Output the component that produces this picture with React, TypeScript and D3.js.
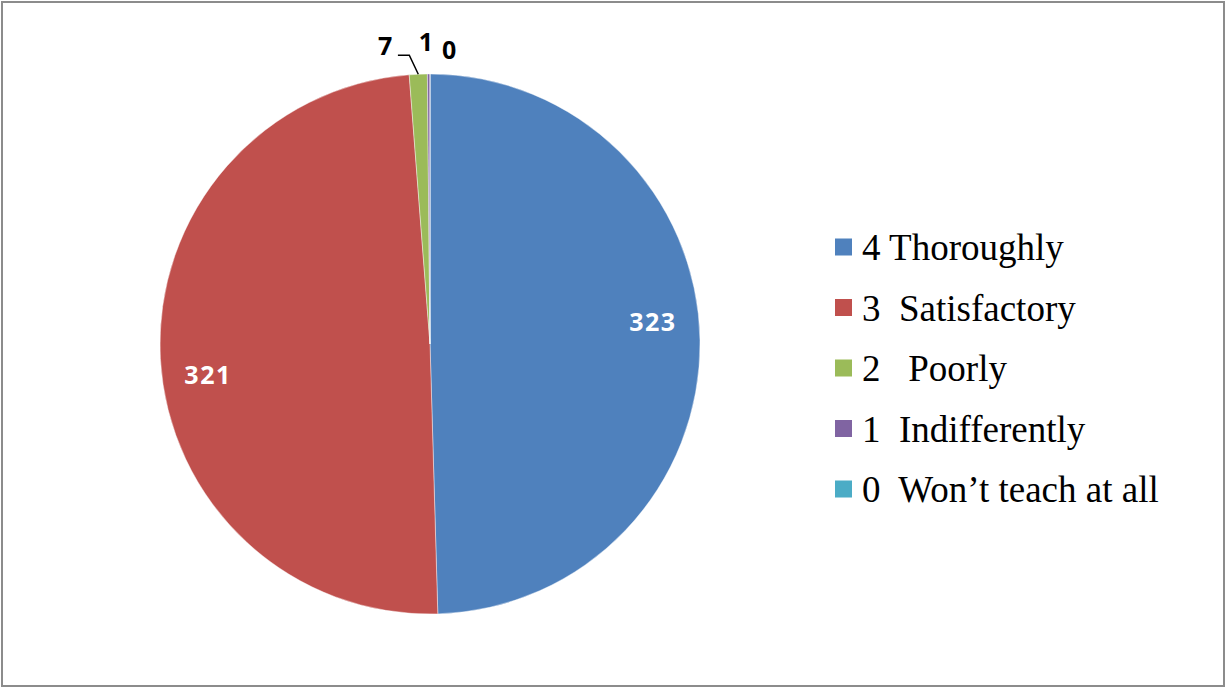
import React from 'react';
import * as d3 from 'd3';

const categories = ['4 Thoroughly', '3  Satisfactory', '2   Poorly', '1  Indifferently', '0  Won\u2019t teach at all'];
const values = [323, 321, 7, 1, 0];
const colors = ['#4F81BD', '#C0504D', '#9BBB59', '#8064A2', '#4BACC6'];

const W = 1225;
const H = 687;
const cx = 430;
const cy = 344;
const radius = 270;

// inside labels sit a little before the slice middle, like Excel's best fit
const insideShift = (-4.9 * Math.PI) / 180;
// outside labels for the tiny slices get pushed apart
const outsideNudge = [
  { dx: -31, dy: 4 },
  { dx: -2, dy: 0 },
  { dx: 20, dy: 8 },
];

const serif = "'Liberation Serif', 'Times New Roman', Tinos, 'DejaVu Serif', serif";

const App = () => {
  const pie = d3.pie<number>().sort(null).value((d) => d);
  const arcs = pie(values);
  const arc = d3.arc<d3.PieArcDatum<number>>().innerRadius(0).outerRadius(radius);

  const polar = (a: number, r: number): [number, number] => [Math.sin(a) * r, -Math.cos(a) * r];

  const labelFont = { fontFamily: "'Open Sans', sans-serif", fontWeight: 700, fontSize: 25, letterSpacing: 1.5 };

  return (
    <svg width={W} height={H} style={{ position: 'absolute', left: 0, top: 0, background: '#fff' }}>
      <rect x={2} y={2} width={W - 3} height={H - 3} fill="#fff" stroke="#8c8c8c" strokeWidth={2} />
      <g transform={`translate(${cx},${cy})`}>
        {arcs.map((a, i) => (
          <path key={i} d={arc(a) || ''} fill={colors[i]} stroke="#fff" strokeOpacity={0.6} strokeWidth={0.7} />
        ))}
        {arcs.map((a, i) => {
          const mid = (a.startAngle + a.endAngle) / 2;
          if (a.value > 100) {
            const [x, y] = polar(mid + insideShift, radius * 0.83);
            return (
              <text key={'l' + i} x={x} y={y} dy="0.36em" textAnchor="middle" fill="#fff" style={labelFont}>
                {a.value}
              </text>
            );
          }
          const k = i - 2;
          const [ex, ey] = polar(mid, radius);
          const [ox, oy] = polar(mid, radius + 32);
          const lx = ox + outsideNudge[k].dx;
          const ly = oy + outsideNudge[k].dy;
          return (
            <g key={'l' + i}>
              {k === 0 && (
                <polyline
                  points={`${lx + 12},${ey - 19} ${ex - 9},${ey - 19} ${ex},${ey}`}
                  fill="none"
                  stroke="#000"
                  strokeWidth={1.5}
                />
              )}
              <text x={lx} y={ly} dy="0.36em" textAnchor="middle" fill="#000" style={labelFont}>
                {a.value}
              </text>
            </g>
          );
        })}
      </g>
      <g transform="translate(835,247)">
        {categories.map((c, i) => (
          <g key={c} transform={`translate(0,${i * 60.5})`}>
            <rect x={0} y={-8.5} width={17} height={17} fill={colors[i]} />
            <text
              x={27}
              y={13}
              fontFamily={serif}
              fontSize={37}
              style={{ whiteSpace: 'pre' }}
              fill="#000"
            >
              {c}
            </text>
          </g>
        ))}
      </g>
    </svg>
  );
};

export default App;
